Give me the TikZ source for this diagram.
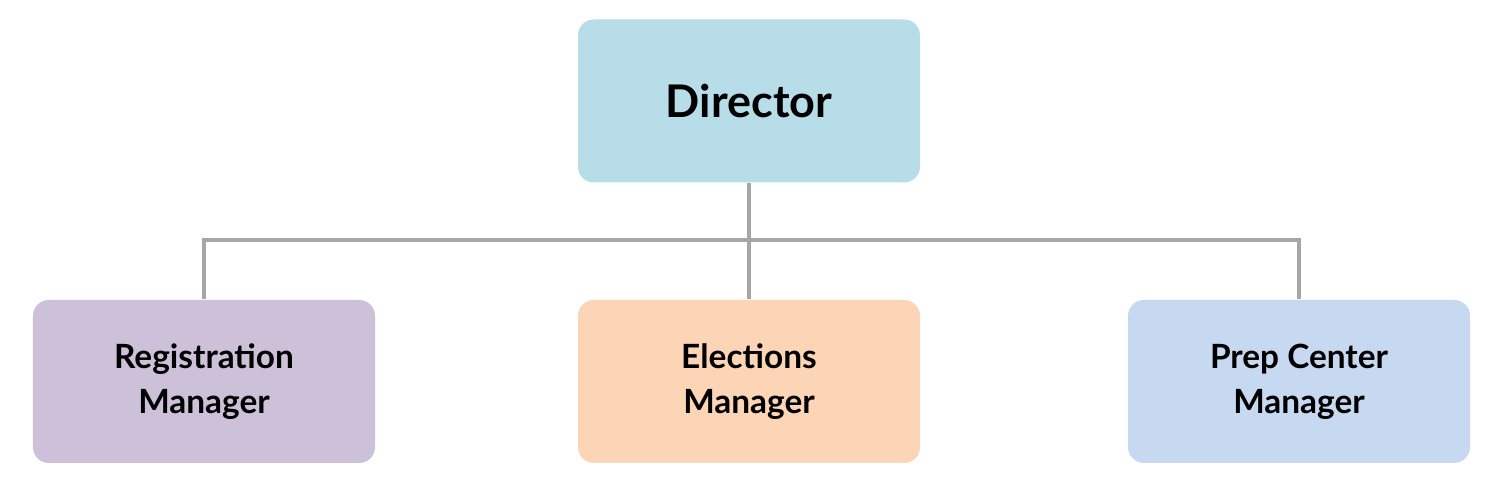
\documentclass[tikz,border=0pt]{standalone}
\usepackage{fontspec}
\setmainfont{Lato}
\definecolor{dircol}{HTML}{B7DDE8}
\definecolor{regcol}{HTML}{CCC1D9}
\definecolor{elecol}{HTML}{FBD5B5}
\definecolor{prepcol}{HTML}{C6D9F0}
\definecolor{linecol}{HTML}{A6A6A6}
\tikzset{
  unit/.style={rounded corners=4.5pt, minimum width=3.42cm, minimum height=1.63cm,
    align=center, font=\bfseries\fontsize{9.5}{12.7}\selectfont, inner sep=0pt},
  link/.style={draw=linecol, line width=1.4pt}
}
\begin{document}
\begin{tikzpicture}
\useasboundingbox (0,0) rectangle (15,-4.8);
\node[unit, fill=dircol, font=\bfseries\fontsize{12.8}{15}\selectfont] (dir) at (7.49,-1.01) {Director};

\node[unit, fill=regcol] (reg) at (2.04,-3.815) {Registration\\Manager};
\node[unit, fill=elecol] (ele) at (7.49,-3.815) {Elections\\Manager};
\node[unit, fill=prepcol] (prep) at (12.99,-3.815) {Prep Center\\Manager};

\coordinate (bus) at (7.49,-2.40);
\draw[link] (dir.south) -- (ele.north);
\draw[link] (reg.north) |- (bus) -| (prep.north);
\end{tikzpicture}
\end{document}
